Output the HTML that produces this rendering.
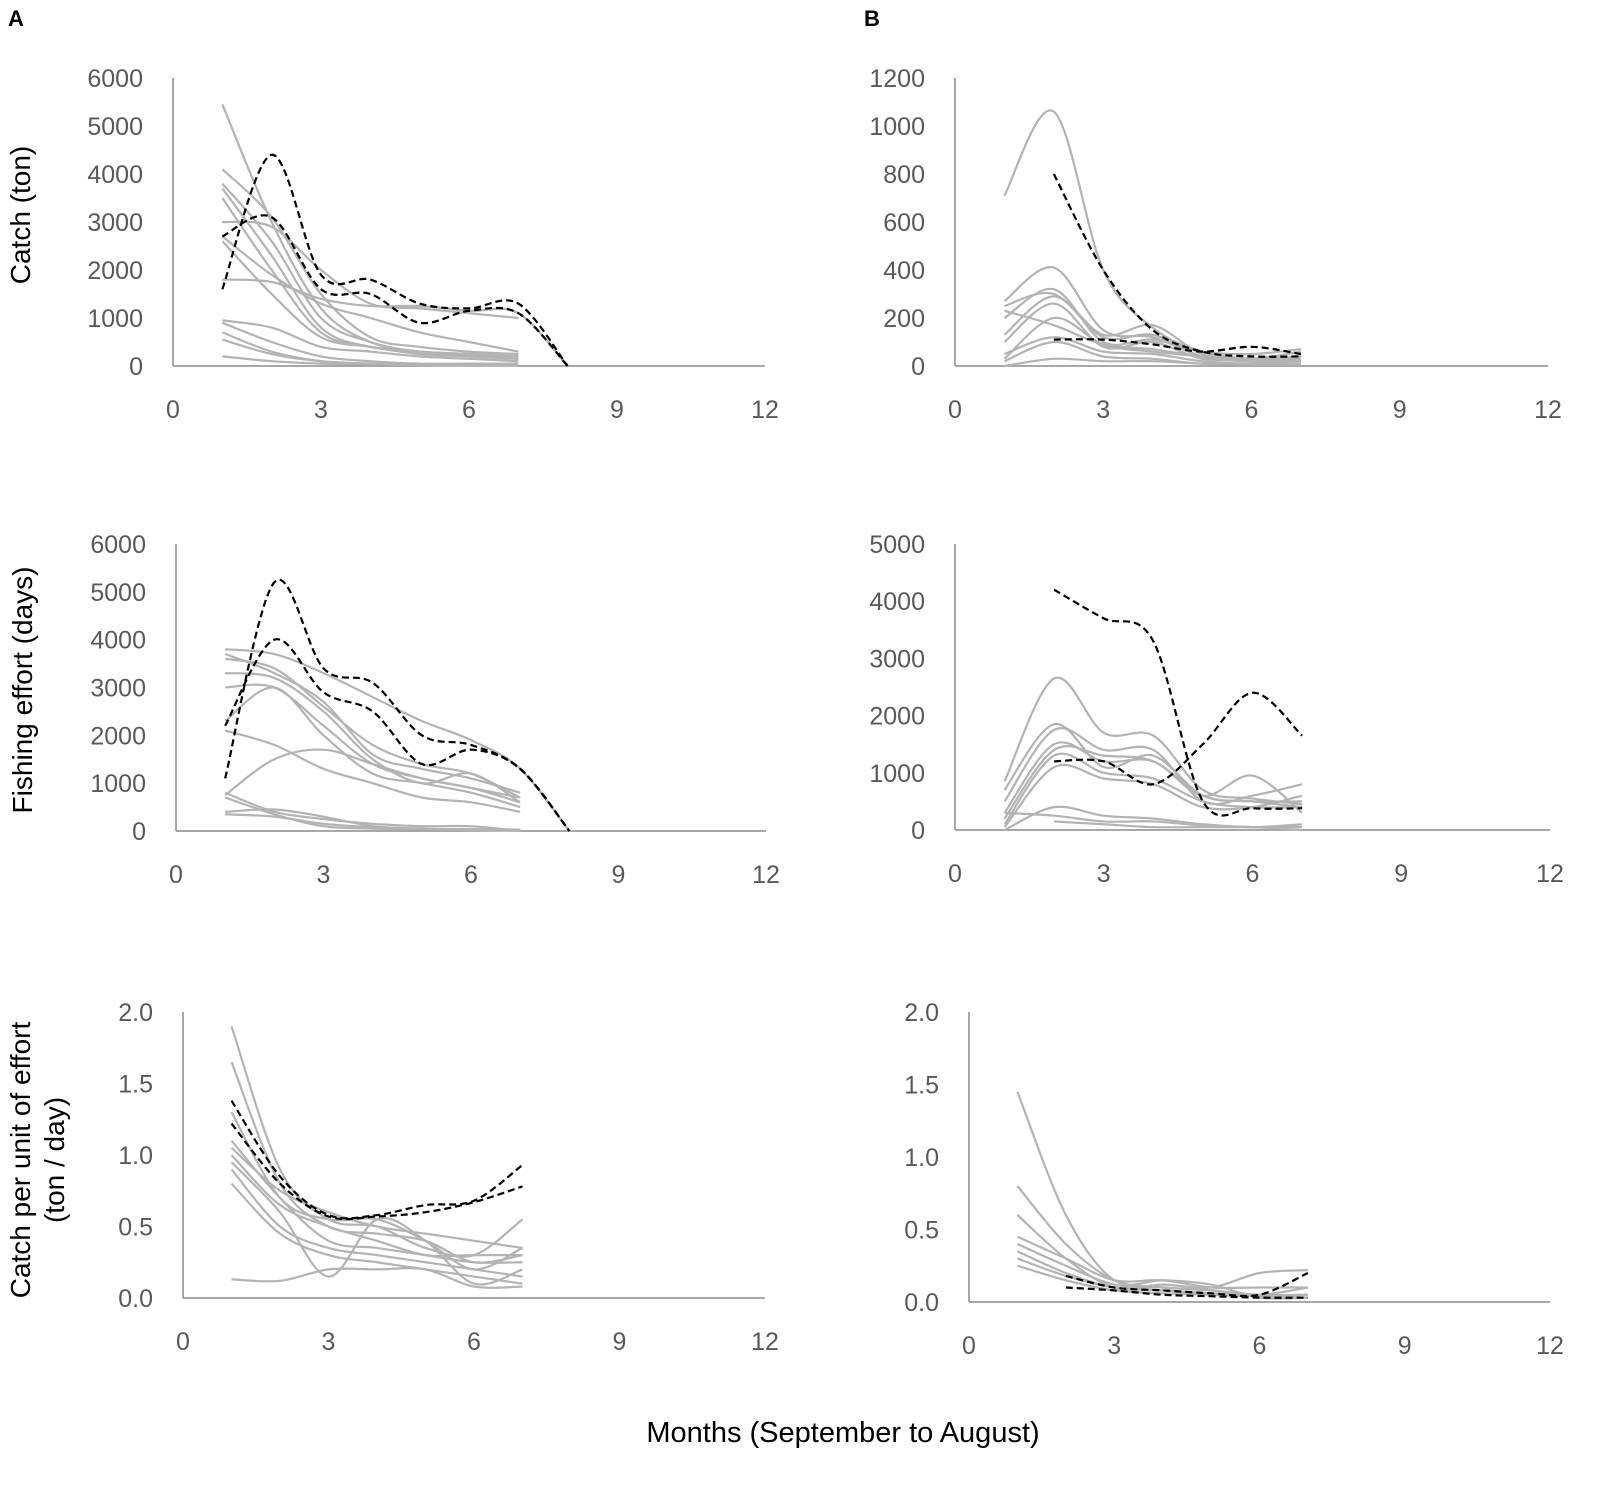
<!DOCTYPE html>
<html><head><meta charset="utf-8"><style>
body{margin:0;background:#fff;}
svg text{font-family:"Liberation Sans",sans-serif;}
</style></head><body>
<svg id="chart" width="1614" height="1496" viewBox="0 0 1614 1496" xmlns="http://www.w3.org/2000/svg">
<text x="8" y="26" font-size="22" font-weight="bold">A</text>
<text x="864" y="26" font-size="22" font-weight="bold">B</text>
<text transform="translate(30,215) rotate(-90)" text-anchor="middle" font-size="28" fill="#000">Catch (ton)</text>
<text transform="translate(32,690) rotate(-90)" text-anchor="middle" font-size="28" fill="#000">Fishing effort  (days)</text>
<text transform="translate(30,1160) rotate(-90)" text-anchor="middle" font-size="28" fill="#000">Catch per unit of effort</text>
<text transform="translate(64,1160) rotate(-90)" text-anchor="middle" font-size="28" fill="#000">(ton / day)</text>
<text x="843" y="1442" text-anchor="middle" font-size="29" fill="#000">Months (September to August)</text>
</svg>
<script>
const N=null;
const monthTicks=[0,3,6,9,12];
const catchTicksA=[0,1000,2000,3000,4000,5000,6000];
const catchTicksB=[0,200,400,600,800,1000,1200];
const effortTicksA=[0,1000,2000,3000,4000,5000,6000];
const effortTicksB=[0,1000,2000,3000,4000,5000];
const cpueTicks=[0,0.5,1.0,1.5,2.0];
const catchA_gray=[[5450,3000,1200,500,300,250,200],[4100,3100,1500,600,400,300,250],[3800,2600,1000,500,300,250,150],[3700,2300,800,400,300,200,150],[3500,2000,700,400,300,250,200],[2700,1900,1300,1000,700,500,300],[2600,1500,600,400,250,200,150],[1800,1750,1400,1250,1250,1150,1100,0],[3000,2900,2000,1300,1200,1100,1000],[950,800,400,300,200,150,100],[900,500,200,100,50,50,50],[700,300,100,50,30,20,20],[550,250,100,50,30,20,10],[200,100,50,30,20,10,10]];
const catchA_dash=[[1600,4400,1900,1800,1300,1200,1300,0],[2700,3100,1600,1500,900,1150,1100,0]];
const catchB_gray=[[710,1060,400,160,60,30,30],[250,300,120,130,40,30,20],[270,410,150,120,40,20,30],[200,320,100,110,60,50,70],[130,290,130,170,50,30,40],[100,260,80,100,30,30,30],[30,200,90,60,40,20,20],[50,120,60,50,20,10,10],[20,100,40,30,10,10,10],[230,170,90,70,40,30,60],[0,30,20,20,10,5,5]];
const catchB_dash=[[N,800,400,150,60,40,40],[N,110,110,90,60,80,50]];
const effortA_gray=[[3800,3700,3300,2800,2300,1900,1300,0],[3700,3300,2700,1600,1300,1100,800],[3600,3400,2600,1800,1400,1200,700],[3300,3200,2500,1500,1000,1200,600],[3000,3000,2200,1400,1100,900,700],[2300,3000,2000,1200,1000,800,500],[2100,1800,1300,1000,700,600,400],[750,1500,1700,1400,1100,900,600],[800,400,250,150,100,100,0],[400,450,300,100,50,30,20],[350,300,150,80,40,40,30],[700,350,100,50,30,20,10]];
const effortA_dash=[[1100,5200,3400,3100,2000,1800,1300,0],[2200,4000,2900,2500,1400,1700,1300,0]];
const effortB_gray=[[850,2650,1700,1650,700,550,450],[700,1850,1100,1300,600,500,400],[500,1750,1400,1400,500,600,800],[300,1500,1200,1200,600,950,300],[200,1400,1300,1200,600,500,500],[100,1300,1000,900,500,400,400],[50,1100,900,800,400,400,600],[0,400,250,200,100,50,100],[300,250,150,150,80,50,0],[N,150,100,50,50,50,50]];
const effortB_dash=[[N,4200,3700,3300,500,380,380],[N,1200,1200,800,1500,2400,1650]];
const cpueA_gray=[[1.9,0.9,0.55,0.5,0.35,0.3,0.55],[1.65,0.8,0.5,0.45,0.4,0.25,0.3],[1.3,0.7,0.55,0.55,0.4,0.2,0.35],[1.1,0.7,0.4,0.35,0.3,0.25,0.25],[1.0,0.65,0.5,0.4,0.3,0.3,0.3],[0.95,0.6,0.15,0.55,0.4,0.1,0.2],[0.9,0.5,0.35,0.3,0.25,0.2,0.15],[0.8,0.45,0.3,0.25,0.2,0.15,0.1],[0.13,0.12,0.2,0.2,0.2,0.08,0.08],[1.05,0.75,0.6,0.5,0.45,0.4,0.35]];
const cpueA_dash=[[1.38,0.85,0.58,0.58,0.65,0.68,0.93],[1.22,0.8,0.57,0.57,0.6,0.67,0.78]];
const cpueB_gray=[[1.45,0.6,0.15,0.15,0.12,0.03,0.03],[0.8,0.4,0.15,0.1,0.08,0.05,0.1],[0.6,0.3,0.1,0.12,0.1,0.2,0.22],[0.45,0.3,0.15,0.15,0.1,0.1,0.1],[0.4,0.25,0.12,0.1,0.08,0.05,0.05],[0.35,0.2,0.1,0.08,0.06,0.04,0.03],[0.3,0.18,0.1,0.08,0.05,0.04,0.05],[0.25,0.15,0.08,0.06,0.05,0.04,0.03]];
const cpueB_dash=[[N,0.18,0.1,0.08,0.06,0.05,0.2],[N,0.1,0.08,0.05,0.04,0.03,0.03]];

const NS="http://www.w3.org/2000/svg";
const svg=document.getElementById('chart');
function mk(t,a,p){const e=document.createElementNS(NS,t);for(const k in a)e.setAttribute(k,a[k]);(p||svg).appendChild(e);return e;}
function panel(name,L,R,Y0,YT,ticks,dec,gray,dash){
  const g=mk('g',{});
  
  
  const ymax=ticks[ticks.length-1];
  const sx=m=>L+(R-L)*m/12, sy=v=>Y0-(Y0-YT)*v/ymax;
  const xa=mk('line',{x1:L,x2:R,y1:Y0,y2:Y0,stroke:'#8c8c8c','stroke-width':1.5},g);
  
  
  const ya=mk('line',{x1:L,x2:L,y1:YT,y2:Y0,stroke:'#8c8c8c','stroke-width':1.5},g);
  
  
  ticks.forEach(v=>{const t=mk('text',{x:L-30,y:sy(v)+9,'text-anchor':'end','font-size':25,fill:'#595959'},g);t.textContent=dec?v.toFixed(1):v;
    
    });
  monthTicks.forEach(m=>{const t=mk('text',{x:sx(m),y:Y0+52,'text-anchor':'middle','font-size':25,fill:'#595959'},g);t.textContent=m;
    
    });
  function path(arr){
    const pts=[];arr.forEach((v,i)=>{if(v!==null)pts.push([sx(i+1),sy(v)]);});
    let d='M'+pts[0][0]+','+pts[0][1];
    for(let i=0;i<pts.length-1;i++){
      const p0=pts[Math.max(i-1,0)],p1=pts[i],p2=pts[i+1],p3=pts[Math.min(i+2,pts.length-1)];
      let c1y=p1[1]+(p2[1]-p0[1])/6,c2y=p2[1]-(p3[1]-p1[1])/6;
      c1y=Math.min(c1y,Y0);c2y=Math.min(c2y,Y0);
      d+=` C${p1[0]+(p2[0]-p0[0])/6},${c1y} ${p2[0]-(p3[0]-p1[0])/6},${c2y} ${p2[0]},${p2[1]}`;
    }
    return d;
  }
  gray.forEach(s=>{const p=mk('path',{d:path(s),fill:'none',stroke:'#b3b3b3','stroke-width':2.2},g);
    
    });
  dash.forEach(s=>{const p=mk('path',{d:path(s),fill:'none',stroke:'#000','stroke-width':2.2,'stroke-dasharray':'7,4'},g);
    
    });
}
panel('panel-a-catch',173,765,366,78,catchTicksA,false,catchA_gray,catchA_dash);
panel('panel-b-catch',955,1548,366,78,catchTicksB,false,catchB_gray,catchB_dash);
panel('panel-a-effort',176,766,831,544,effortTicksA,false,effortA_gray,effortA_dash);
panel('panel-b-effort',955,1550,830,544,effortTicksB,false,effortB_gray,effortB_dash);
panel('panel-a-cpue',183,765,1298,1012,cpueTicks,true,cpueA_gray,cpueA_dash);
panel('panel-b-cpue',969,1550,1302,1012,cpueTicks,true,cpueB_gray,cpueB_dash);
</script>
</body></html>
